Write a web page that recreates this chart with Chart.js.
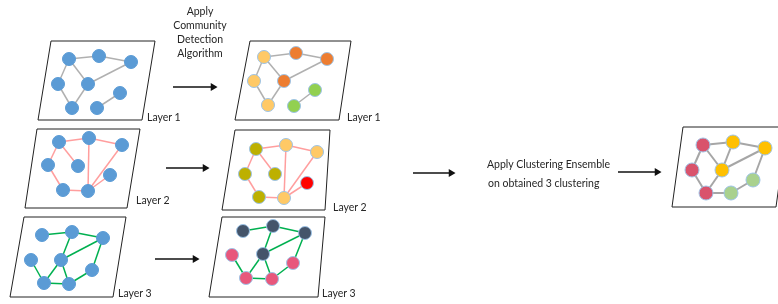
<!DOCTYPE html>
<html>
<head>
<meta charset="utf-8">
<script src="https://cdn.jsdelivr.net/npm/chart.js@4"></script>
<style>
  body { margin: 0; background: #fff; }
  #wrap { position: relative; width: 778px; height: 304px; }
  .lbl { position: absolute; font-family: Lato, 'Open Sans', sans-serif; font-size: 10.5px; color: #262626; white-space: nowrap; line-height: 14px; }
</style>
</head>
<body>
<div id="wrap">
  <canvas id="diagram"></canvas>
</div>
<script>
// node positions (pixel units, y grows downward)
const layer1In = [[69,59],[99,56],[131,62],[58,84],[88,84],[120,93],[72,108],[97,108]];
const layer1Out = [[264,57],[296,53],[327,59],[254,81],[284,81],[315,90],[268,105],[294,106]];
const layer2In = [[59,142],[89,138],[122,145],[48,165],[78,166],[110,175],[63,190],[88,191]];
const layer2Out = [[256,149],[286,145],[317,152],[245,174],[275,174],[307,183],[259,197],[284,198]];
const layer3In = [[42,235],[72,232],[103,238],[31,260],[61,260],[92,270],[44,283],[69,284]];
const layer3Out = [[243,231],[273,226],[305,233],[232,255],[263,254],[293,263],[246,278],[272,279]];
const ensemble = [[703,145],[733,142],[765,148],[692,170],[722,170],[753,180],[706,193],[731,193]];

// edges (node index pairs)
const edges1 = [[0,1],[1,2],[0,3],[0,4],[3,6],[4,6],[4,2],[7,5]];
const edges2 = [[0,1],[1,2],[0,3],[0,4],[3,6],[6,7],[7,1],[7,2],[7,5]];
const edges3 = [[0,1],[1,2],[1,4],[4,2],[2,5],[3,6],[4,6],[4,7],[6,7],[7,5]];
const edgesEns = [[0,1],[1,2],[0,3],[0,4],[1,4],[4,2],[2,5],[3,6],[4,6],[6,7],[7,5]];

// community labels per node
const comm1 = ['Y','O','O','Y','O','G','Y','G'];
const comm2 = ['K','Y','Y','K','K','R','K','Y'];
const comm3 = ['D','D','D','P','D','P','P','P'];
const commEns = ['C','A','A','C','A','L','C','L'];

// layer planes (parallelogram corners)
const frames = [
  [[51,41],[155,41],[142,120],[38,120]],
  [[250,41],[351,41],[339,120],[235,120]],
  [[37,129],[140,129],[127,208],[25,208]],
  [[235,130],[330,130],[325,210],[222,210]],
  [[24,217],[126,217],[113,297],[10,297]],
  [[222,217],[325,217],[318,297],[209,297]],
  [[683,127],[787,127],[776,207],[672,207]]
];

const arrows = [
  [[173,87],[213,87]],
  [[166,168],[205,168]],
  [[155,259],[195,259]],
  [[413,173],[451,173]],
  [[618,172],[657,172]]
];

const palette = {
  Y: '#FFC966', O: '#ED7D31', G: '#92D050', K: '#BDB000', R: '#FF0000',
  D: '#44546A', P: '#E8577C', C: '#D9536C', A: '#FFC000', L: '#A9D18E'
};

const texts = [
  { t: 'Apply<br>Community<br>Detection<br>Algorithm', x: 200, y: 4, center: true },
  { t: 'Layer 1', x: 147, y: 110 },
  { t: 'Layer 1', x: 347, y: 110 },
  { t: 'Layer 2', x: 136, y: 193 },
  { t: 'Layer 2', x: 333, y: 200 },
  { t: 'Layer 3', x: 118, y: 286 },
  { t: 'Layer 3', x: 322, y: 286 },
  { t: 'Apply Clustering Ensemble', x: 487, y: 157 },
  { t: 'on obtained 3 clustering', x: 488, y: 176 }
];

const pt = p => ({ x: p[0], y: p[1] });

const datasets = [];

function addEdges(nodes, edges, color, width) {
  edges.forEach(e => {
    datasets.push({ data: [pt(nodes[e[0]]), pt(nodes[e[1]])], showLine: true, borderColor: color,
      borderWidth: width, pointRadius: 0, order: 2, clip: false });
  });
}

function addNodes(nodes, colors, border, r) {
  datasets.push({ data: nodes.map(pt), showLine: false, pointRadius: r,
    pointBackgroundColor: colors, pointBorderColor: border, pointBorderWidth: 1, order: 1, clip: false });
}

frames.forEach(f => {
  datasets.push({ data: f.concat([f[0]]).map(pt), showLine: true, borderColor: '#222', borderWidth: 1,
    pointRadius: 0, order: 3, clip: false });
});
arrows.forEach(a => {
  datasets.push({ data: a.map(pt), showLine: true, borderColor: '#111', borderWidth: 1.5,
    pointRadius: [0, 3], pointStyle: 'triangle', rotation: 90, pointBackgroundColor: '#111',
    pointBorderColor: '#111', order: 3, clip: false });
});

addEdges(layer1In, edges1, '#B0B0B0', 1.5);
addEdges(layer1Out, edges1, '#B0B0B0', 1.5);
addEdges(layer2In, edges2, '#FF9E9E', 1.5);
addEdges(layer2Out, edges2, '#FF9E9E', 1.5);
addEdges(layer3In, edges3, '#00B050', 1.5);
addEdges(layer3Out, edges3, '#00B050', 1.5);
addEdges(ensemble, edgesEns, '#A6A6A6', 2);

const blue = '#5B9BD5';
addNodes(layer1In, blue, blue, 6.5);
addNodes(layer2In, blue, blue, 6.5);
addNodes(layer3In, blue, blue, 6.5);
addNodes(layer1Out, comm1.map(c => palette[c]), '#9DC3E6', 6.5);
addNodes(layer2Out, comm2.map(c => palette[c]), '#9DC3E6', 6.5);
addNodes(layer3Out, comm3.map(c => palette[c]), '#9DC3E6', 6.5);
addNodes(ensemble, commEns.map(c => palette[c]), '#9DC3E6', 7);

new Chart(document.getElementById('diagram'), {
  type: 'scatter',
  data: { datasets },
  options: {
    responsive: true,
    maintainAspectRatio: false,
    animation: false,
    events: [],
    layout: { padding: 0, autoPadding: false },
    plugins: { legend: { display: false }, tooltip: { enabled: false } },
    scales: {
      x: { type: 'linear', min: 0, max: 778, display: false },
      y: { type: 'linear', min: 0, max: 304, reverse: true, display: false }
    }
  }
});

const wrap = document.getElementById('wrap');
texts.forEach(o => {
  const d = document.createElement('div');
  d.className = 'lbl';
  d.innerHTML = o.t;
  d.style.top = o.y + 'px';
  if (o.center) {
    d.style.left = (o.x - 60) + 'px';
    d.style.width = '120px';
    d.style.textAlign = 'center';
  } else {
    d.style.left = o.x + 'px';
  }
  wrap.appendChild(d);
});
</script>
</body>
</html>
